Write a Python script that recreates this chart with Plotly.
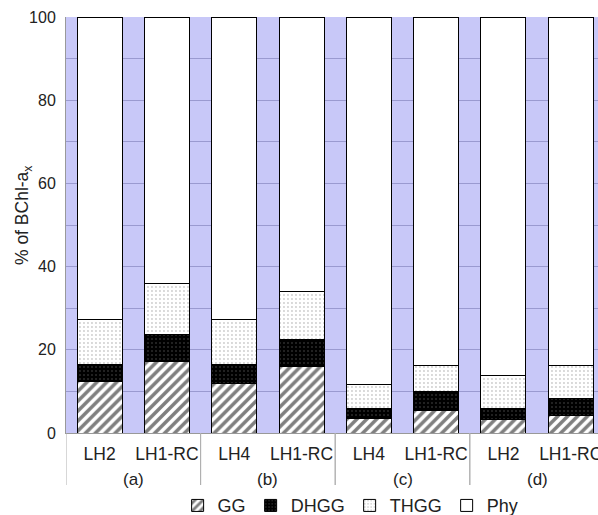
import plotly.graph_objects as go

groups = ["(a)", "(a)", "(b)", "(b)", "(c)", "(c)", "(d)", "(d)"]
samples = ["LH2", "LH1-RC", "LH4", "LH1-RC", "LH4", "LH1-RC", "LH2", "LH1-RC"]

gg = [12.5, 17.1, 11.9, 16.1, 3.5, 5.5, 3.3, 4.2]
dhgg = [4.0, 6.6, 4.6, 6.3, 2.3, 4.4, 2.6, 4.0]
thgg = [10.9, 12.3, 10.9, 11.7, 5.9, 6.4, 8.0, 8.1]
phy = [100 - a - b - c for a, b, c in zip(gg, dhgg, thgg)]

pos = list(range(len(samples)))
line = dict(color="black", width=1)
font_family = "Liberation Sans, Arial, sans-serif"

fig = go.Figure()
fig.add_trace(go.Bar(
    x=pos, y=gg, name="GG",
    marker=dict(color="white", line=line,
                pattern=dict(shape="/", fgcolor="black", bgcolor="white", size=7, solidity=0.5)),
))
fig.add_trace(go.Bar(
    x=pos, y=dhgg, name="DHGG",
    marker=dict(color="black", line=line,
                pattern=dict(shape=".", fgcolor="#555555", bgcolor="black", size=4, solidity=0.2)),
))
fig.add_trace(go.Bar(
    x=pos, y=thgg, name="THGG",
    marker=dict(color="white", line=line,
                pattern=dict(shape=".", fgcolor="#9a9a9a", bgcolor="white", size=4, solidity=0.18)),
))
fig.add_trace(go.Bar(
    x=pos, y=phy, name="Phy",
    marker=dict(color="white", line=line),
))

# group labels and dividers derived from the group list
group_names = []
for g in groups:
    if g not in group_names:
        group_names.append(g)
annotations = []
shapes = []
for g in group_names:
    idx = [i for i, gg_ in enumerate(groups) if gg_ == g]
    center = sum(idx) / len(idx)
    annotations.append(dict(x=center, y=-0.111, xref="x", yref="paper", text=g,
                            showarrow=False, yanchor="middle",
                            font=dict(size=17, color="#222222")))
    for b in (min(idx) - 0.5, max(idx) + 0.5):
        shapes.append(dict(type="line", xref="x", yref="paper", x0=b, x1=b,
                           y0=0, y1=-0.125, line=dict(color="#b0b0b0", width=1)))

# y-axis title
annotations.append(dict(x=-0.08, y=0.525, xref="paper", yref="paper",
                        text="% of BChl-a<sub>x</sub>", textangle=-90,
                        showarrow=False, xanchor="center", yanchor="middle",
                        font=dict(size=17.5, color="#222222")))

fig.update_layout(
    barmode="stack",
    bargap=0.33,
    width=598, height=515,
    margin=dict(l=66, r=0, t=17, b=82),
    paper_bgcolor="white",
    plot_bgcolor="#c8c8f8",
    font=dict(family=font_family, size=16, color="#222222"),
    showlegend=True,
    legend=dict(orientation="h", x=0.535, xanchor="center", xref="paper",
                y=0.018, yanchor="middle", yref="container",
                font=dict(size=18), traceorder="normal", itemwidth=30,
                bgcolor="rgba(0,0,0,0)"),
    annotations=annotations,
    shapes=shapes,
)
fig.update_xaxes(
    range=[-0.5, 7.405],
    tickvals=pos, ticktext=samples,
    showgrid=False, zeroline=False,
    showline=True, linecolor="#999999", linewidth=1,
    tickfont=dict(size=17.5),
    ticklabelstandoff=5,
    ticklabeloverflow="allow",
    automargin=False,
)
fig.update_yaxes(
    range=[0, 100],
    dtick=20,
    showgrid=True, gridcolor="#9a9ad0", gridwidth=1,
    minor=dict(dtick=10, showgrid=True, gridcolor="#9a9ad0", gridwidth=1),
    showline=True, linecolor="#999999", linewidth=1,
    zeroline=False,
    tickfont=dict(size=16),
    ticklabelstandoff=6,
    automargin=False,
)

fig.write_html("out.html")
